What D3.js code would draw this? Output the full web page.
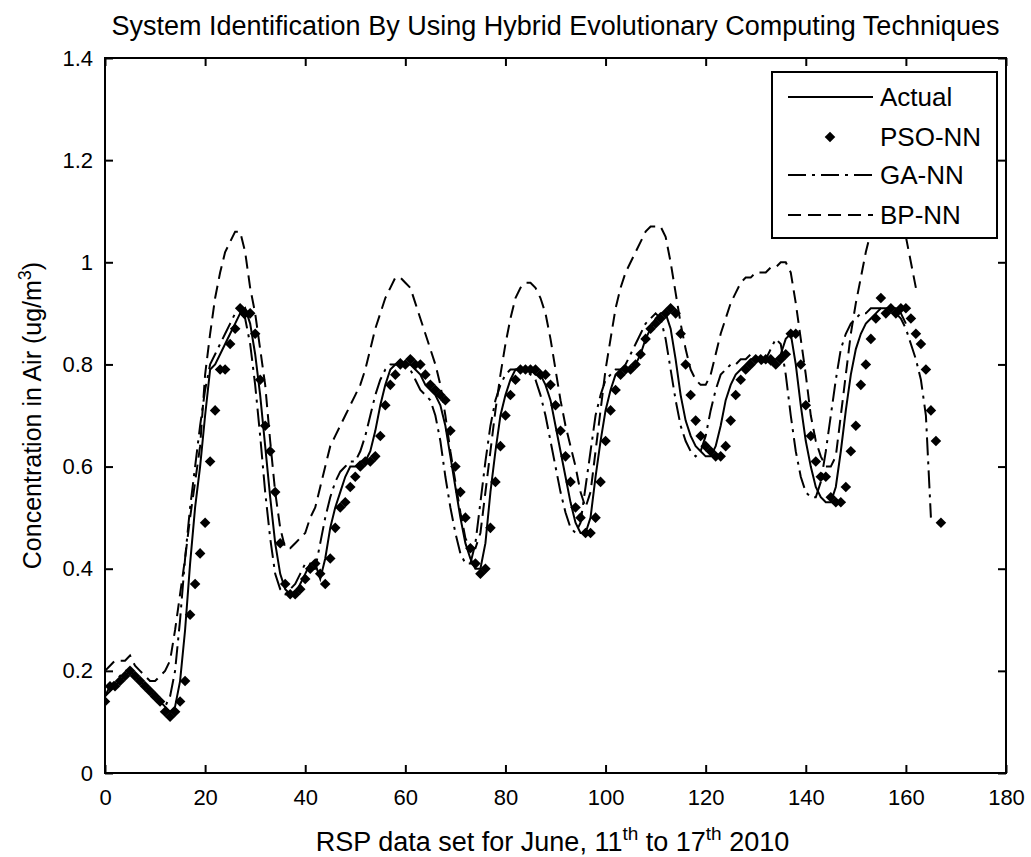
<!DOCTYPE html>
<html>
<head>
<meta charset="utf-8">
<script src="https://cdn.jsdelivr.net/npm/d3@7"></script>
<style>
  body { margin: 0; background: #fff; }
  text { font-family: "Liberation Sans", Arial, Helvetica, sans-serif; fill: #000; }
</style>
</head>
<body>
<div id="chart"></div>
<script>
// hourly values, index = hour of the data set
var actual = [
  0.15,0.16,0.17,0.18,0.19,0.20,0.19,0.18,0.17,0.16,0.15,0.14,
  0.13,0.12,0.13,0.18,0.28,0.41,0.52,0.60,0.70,0.79,0.80,0.82,
  0.84,0.86,0.88,0.90,0.91,0.88,0.82,0.74,0.64,0.54,0.45,0.39,
  0.36,0.35,0.35,0.37,0.39,0.41,0.41,0.38,0.42,0.48,0.52,0.55,
  0.58,0.60,0.60,0.61,0.61,0.63,0.67,0.72,0.76,0.79,0.80,0.81,
  0.80,0.80,0.79,0.78,0.76,0.75,0.74,0.72,0.68,0.62,0.56,0.50,
  0.45,0.42,0.40,0.40,0.45,0.55,0.63,0.70,0.74,0.77,0.79,0.79,
  0.79,0.79,0.78,0.78,0.76,0.73,0.68,0.63,0.58,0.53,0.49,0.47,
  0.47,0.50,0.58,0.65,0.71,0.75,0.78,0.79,0.79,0.79,0.80,0.82,
  0.85,0.87,0.89,0.90,0.90,0.87,0.81,0.74,0.69,0.66,0.64,0.63,
  0.62,0.62,0.64,0.68,0.73,0.76,0.78,0.79,0.80,0.81,0.81,0.81,
  0.81,0.80,0.81,0.82,0.85,0.86,0.80,0.72,0.65,0.60,0.56,0.54,
  0.53,0.53,0.56,0.63,0.71,0.78,0.83,0.86,0.88,0.89,0.90,0.91,
  0.91,0.91,0.91,0.90,0.88
];

var psoNN = [
  0.14,0.17,0.17,0.18,0.19,0.20,0.19,0.18,0.17,0.16,0.15,0.14,
  0.12,0.11,0.12,0.14,0.18,0.31,0.37,0.43,0.49,0.61,0.71,0.79,
  0.79,0.84,0.87,0.91,0.90,0.90,0.86,0.77,0.68,0.63,0.55,0.45,
  0.37,0.35,0.35,0.36,0.38,0.40,0.41,0.39,0.37,0.42,0.48,0.52,
  0.53,0.56,0.58,0.60,0.61,0.61,0.62,0.66,0.72,0.76,0.78,0.80,
  0.80,0.81,0.80,0.80,0.78,0.76,0.75,0.74,0.73,0.67,0.60,0.55,
  0.50,0.44,0.41,0.39,0.40,0.48,0.57,0.64,0.70,0.74,0.77,0.79,
  0.79,0.79,0.79,0.78,0.78,0.76,0.72,0.67,0.62,0.57,0.52,0.50,
  0.47,0.47,0.50,0.57,0.65,0.71,0.75,0.78,0.79,0.79,0.80,0.82,
  0.85,0.87,0.88,0.89,0.90,0.91,0.90,0.86,0.80,0.74,0.69,0.66,
  0.64,0.63,0.62,0.62,0.64,0.69,0.74,0.77,0.79,0.80,0.81,0.81,
  0.81,0.81,0.80,0.81,0.82,0.86,0.86,0.80,0.72,0.66,0.61,0.58,
  0.58,0.54,0.53,0.53,0.56,0.63,0.68,0.76,0.80,0.85,0.89,0.93,
  0.90,0.91,0.90,0.91,0.91,0.89,0.86,0.84,0.79,0.71,0.65,0.49
];

var gaNN = [
  0.15,0.17,0.18,0.19,0.20,0.20,0.19,0.18,0.17,0.16,0.15,0.14,
  0.13,0.15,0.20,0.30,0.42,0.52,0.60,0.68,0.75,0.80,0.82,0.84,
  0.86,0.88,0.90,0.90,0.89,0.84,0.76,0.66,0.55,0.46,0.39,0.36,
  0.35,0.36,0.37,0.39,0.41,0.40,0.40,0.45,0.50,0.54,0.57,0.59,
  0.60,0.61,0.61,0.63,0.66,0.70,0.74,0.77,0.79,0.80,0.80,0.80,
  0.80,0.79,0.77,0.75,0.74,0.73,0.70,0.65,0.58,0.52,0.47,0.43,
  0.41,0.41,0.45,0.53,0.61,0.68,0.73,0.76,0.78,0.79,0.79,0.79,
  0.79,0.78,0.77,0.74,0.70,0.65,0.60,0.55,0.51,0.48,0.47,0.49,
  0.56,0.63,0.70,0.74,0.77,0.78,0.79,0.79,0.80,0.82,0.84,0.86,
  0.88,0.89,0.90,0.89,0.85,0.79,0.73,0.68,0.65,0.63,0.62,0.63,
  0.66,0.71,0.75,0.78,0.79,0.80,0.80,0.81,0.81,0.82,0.81,0.80,
  0.81,0.83,0.85,0.84,0.78,0.70,0.63,0.58,0.55,0.54,0.54,0.57,
  0.63,0.70,0.77,0.83,0.86,0.88,0.89,0.90,0.90,0.91,0.91,0.91,
  0.91,0.91,0.90,0.89,0.87,0.84,0.81,0.77,0.70,0.50
];

var bpNN = [
  0.20,0.21,0.22,0.22,0.22,0.23,0.21,0.20,0.19,0.18,0.18,0.19,
  0.20,0.22,0.28,0.35,0.42,0.50,0.57,0.64,0.78,0.86,0.93,0.98,
  1.02,1.04,1.06,1.06,1.02,0.95,0.90,0.83,0.76,0.65,0.55,0.48,
  0.44,0.44,0.45,0.46,0.47,0.50,0.52,0.56,0.60,0.64,0.66,0.68,
  0.70,0.72,0.74,0.76,0.79,0.83,0.87,0.90,0.93,0.95,0.97,0.97,
  0.96,0.95,0.92,0.89,0.86,0.83,0.80,0.76,0.70,0.63,0.57,0.51,
  0.46,0.44,0.44,0.47,0.55,0.63,0.71,0.78,0.84,0.89,0.93,0.95,
  0.96,0.96,0.95,0.93,0.90,0.85,0.79,0.73,0.68,0.64,0.60,0.55,
  0.52,0.55,0.63,0.71,0.79,0.85,0.91,0.95,0.98,1.00,1.02,1.04,
  1.06,1.07,1.07,1.07,1.05,1.00,0.94,0.88,0.83,0.79,0.77,0.76,
  0.76,0.78,0.82,0.86,0.89,0.92,0.94,0.96,0.97,0.97,0.98,0.98,
  0.98,0.99,0.99,1.00,1.00,0.98,0.92,0.85,0.78,0.70,0.65,0.62,
  0.60,0.60,0.62,0.70,0.78,0.86,0.92,0.97,1.02,1.06,1.08,1.09,
  1.09,1.09,1.09,1.08,1.05,1.00,0.95
];

var xTicks = [0, 20, 40, 60, 80, 100, 120, 140, 160, 180];
var yTicks = [0, 0.2, 0.4, 0.6, 0.8, 1, 1.2, 1.4];
var legendNames = ["Actual", "PSO-NN", "GA-NN", "BP-NN"];

// set the dimensions and margins of the graph
var margin = {top: 58, right: 25, bottom: 84, left: 105},
    width = 1031 - margin.left - margin.right,
    height = 857 - margin.top - margin.bottom;

var x = d3.scaleLinear().domain([0, 180]).range([0, width]);
var y = d3.scaleLinear().domain([0, 1.4]).range([height, 0]);

var svg = d3.select("#chart").append("svg")
    .attr("width", 1031)
    .attr("height", 857);

var g = svg.append("g")
    .attr("transform", "translate(" + margin.left + "," + margin.top + ")");

g.append("clipPath").attr("id", "clip")
  .append("rect").attr("width", width).attr("height", height);

var plot = g.append("g").attr("clip-path", "url(#clip)");

var line = d3.line()
    .x(function(d, i) { return x(i); })
    .y(function(d) { return y(d); });

// the three line series
plot.append("path").datum(bpNN)
    .attr("fill", "none").attr("stroke", "#000").attr("stroke-width", 2)
    .attr("stroke-dasharray", "13,7")
    .attr("d", line);

plot.append("path").datum(gaNN)
    .attr("fill", "none").attr("stroke", "#000").attr("stroke-width", 2)
    .attr("stroke-dasharray", "18,6,3,6")
    .attr("d", line);

plot.append("path").datum(actual)
    .attr("fill", "none").attr("stroke", "#000").attr("stroke-width", 2)
    .attr("d", line);

// PSO-NN diamonds
var diamond = d3.symbol().type(d3.symbolSquare).size(56);
plot.selectAll(".pso")
    .data(psoNN)
  .enter().append("path")
    .attr("class", "pso")
    .attr("d", diamond)
    .attr("transform", function(d, i) {
      return "translate(" + x(i) + "," + y(d) + ") rotate(45)";
    })
    .attr("fill", "#000");

// axes: ticks inside, on all four sides
var tickLen = 8;
var xAxisB = d3.axisBottom(x).tickValues(xTicks).tickSizeInner(-tickLen).tickSizeOuter(0).tickPadding(16);
var xAxisT = d3.axisTop(x).tickValues(xTicks).tickSizeInner(-tickLen).tickSizeOuter(0).tickFormat("");
var yAxisL = d3.axisLeft(y).tickValues(yTicks).tickSizeInner(-tickLen).tickSizeOuter(0).tickPadding(12)
    .tickFormat(function(d) { return d3.format("")(d); });
var yAxisR = d3.axisRight(y).tickValues(yTicks).tickSizeInner(-tickLen).tickSizeOuter(0).tickFormat("");

var axes = [
  g.append("g").attr("transform", "translate(0," + height + ")").call(xAxisB),
  g.append("g").call(xAxisT),
  g.append("g").call(yAxisL),
  g.append("g").attr("transform", "translate(" + width + ",0)").call(yAxisR)
];
axes.forEach(function(a) {
  a.select(".domain").remove();
  a.selectAll("line").attr("stroke", "#000").attr("stroke-width", 2);
  a.selectAll("text").attr("font-size", 22).attr("fill", "#000")
    .style("font-family", "'Liberation Sans', Arial, sans-serif");
});

// frame
g.append("rect")
    .attr("width", width).attr("height", height)
    .attr("fill", "none").attr("stroke", "#000").attr("stroke-width", 2);

// legend
var lg = g.append("g").attr("transform", "translate(" + (772 - margin.left) + "," + (72 - margin.top) + ")");
lg.append("rect")
    .attr("width", 225).attr("height", 166)
    .attr("fill", "#fff").attr("stroke", "#000").attr("stroke-width", 2);

var rowY = [25, 65, 103, 143];
var dashes = [null, null, "18,6,3,6", "13,7"];
legendNames.forEach(function(name, i) {
  if (i !== 1) {
    lg.append("line")
      .attr("x1", 16).attr("x2", 101)
      .attr("y1", rowY[i]).attr("y2", rowY[i])
      .attr("stroke", "#000").attr("stroke-width", 2)
      .attr("stroke-dasharray", dashes[i]);
  } else {
    lg.append("path")
      .attr("d", diamond)
      .attr("transform", "translate(58," + rowY[i] + ") rotate(45)")
      .attr("fill", "#000");
  }
  lg.append("text")
    .attr("x", 108).attr("y", rowY[i])
    .attr("dy", "0.36em")
    .attr("font-size", 26)
    .text(name);
});

// title
svg.append("text")
    .attr("x", margin.left + width / 2).attr("y", 35)
    .attr("text-anchor", "middle")
    .attr("font-size", 27)
    .text("System Identification By Using Hybrid Evolutionary Computing Techniques");

// x label (superscripts shifted by fixed pixels so the baseline comes back)
var xl = svg.append("text")
    .attr("x", margin.left + width / 2 - 3).attr("y", 851)
    .attr("text-anchor", "middle")
    .attr("font-size", 27);
xl.append("tspan").text("RSP data set for June, 11");
xl.append("tspan").attr("dy", -11).attr("font-size", 19).text("th");
xl.append("tspan").attr("dy", 11).text(" to 17");
xl.append("tspan").attr("dy", -11).attr("font-size", 19).text("th");
xl.append("tspan").attr("dy", 11).text(" 2010");

// y label
var yl = svg.append("text")
    .attr("transform", "translate(41," + (margin.top + height / 2) + ") rotate(-90)")
    .attr("text-anchor", "middle")
    .attr("font-size", 25);
yl.append("tspan").text("Concentration in Air (ug/m");
yl.append("tspan").attr("dy", -10).attr("font-size", 18).text("3");
yl.append("tspan").attr("dy", 10).text(")");
</script>
</body>
</html>
